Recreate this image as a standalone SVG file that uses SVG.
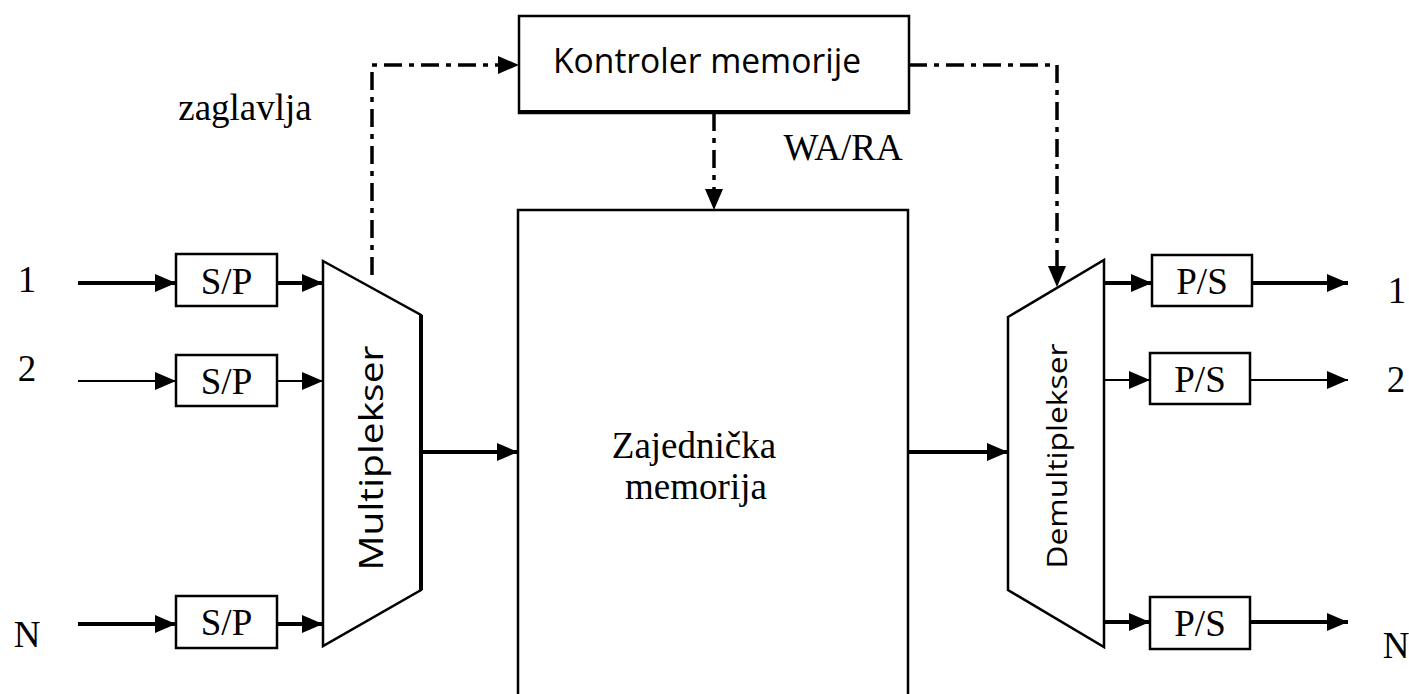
<svg xmlns="http://www.w3.org/2000/svg" width="1409" height="694" viewBox="0 0 1409 694">
<style>
.box{fill:#fff;stroke:#000;stroke-width:2.5}
.t{font-family:"Liberation Serif","Times New Roman",serif;font-size:37px;fill:#000}
.c{font-family:"Open Sans","DejaVu Sans",sans-serif;fill:#000}
.thick{stroke:#000;stroke-width:4;fill:none}
.thin{stroke:#000;stroke-width:2;fill:none}
.dd{stroke:#000;stroke-width:3.5;fill:none;stroke-dasharray:18 7 5 7}
</style>
<defs>
<marker id="ah" markerUnits="userSpaceOnUse" markerWidth="22" markerHeight="20" refX="21" refY="10" orient="auto">
<path d="M0,1 L21,10 L0,19 z" fill="#000"/>
</marker>
</defs>
<rect width="1409" height="694" fill="#fff"/>

<g id="connectors">
<line class="thick" x1="78" y1="283" x2="176" y2="283" marker-end="url(#ah)"/>
<line class="thin" x1="78" y1="381" x2="176" y2="381" marker-end="url(#ah)"/>
<line class="thick" x1="78" y1="624" x2="176" y2="624" marker-end="url(#ah)"/>
<line class="thick" x1="277" y1="283" x2="323" y2="283" marker-end="url(#ah)"/>
<line class="thin" x1="277" y1="381" x2="323" y2="381" marker-end="url(#ah)"/>
<line class="thick" x1="277" y1="624" x2="323" y2="624" marker-end="url(#ah)"/>
<line class="thick" x1="421" y1="452" x2="518" y2="452" marker-end="url(#ah)"/>
<line class="thick" x1="908" y1="452" x2="1008" y2="452" marker-end="url(#ah)"/>
<line class="thick" x1="1104" y1="283" x2="1152" y2="283" marker-end="url(#ah)"/>
<line class="thin" x1="1104" y1="380" x2="1150" y2="380" marker-end="url(#ah)"/>
<line class="thick" x1="1104" y1="622" x2="1150" y2="622" marker-end="url(#ah)"/>
<line class="thick" x1="1252" y1="283" x2="1348" y2="283" marker-end="url(#ah)"/>
<line class="thin" x1="1250" y1="380" x2="1348" y2="380" marker-end="url(#ah)"/>
<line class="thick" x1="1250" y1="622" x2="1348" y2="622" marker-end="url(#ah)"/>
<polyline class="dd" points="372,275 372,65 519,65" marker-end="url(#ah)"/>
<polyline class="dd" points="909,65 1057,65 1057,287" marker-end="url(#ah)"/>
<line class="dd" x1="714" y1="113" x2="714" y2="210" marker-end="url(#ah)"/>
</g>

<g id="controller">
<rect class="box" x="519" y="16" width="390" height="97"/>
<line x1="519" y1="112" x2="909" y2="112" stroke="#000" stroke-width="4"/>
<text class="c" x="707" y="73" font-size="35" text-anchor="middle" textLength="308" lengthAdjust="spacingAndGlyphs">Kontroler memorije</text>
</g>

<g id="memory">
<rect class="box" x="518" y="210" width="390" height="500"/>
<text class="t" x="694" y="458" text-anchor="middle">Zajednička</text>
<text class="t" x="696" y="499" text-anchor="middle">memorija</text>
</g>

<g id="mux">
<polygon class="box" points="323,261 421,315 421,590 323,646"/>
<line x1="421" y1="315" x2="421" y2="590" stroke="#000" stroke-width="4"/>
<text class="c" transform="translate(383,458) rotate(-90)" font-size="32" text-anchor="middle" textLength="225" lengthAdjust="spacingAndGlyphs">Multiplekser</text>
</g>

<g id="demux">
<polygon class="box" points="1008,317 1104,260 1104,647 1008,590"/>
<text class="c" transform="translate(1067,456) rotate(-90)" font-size="28" text-anchor="middle" textLength="225" lengthAdjust="spacingAndGlyphs">Demultiplekser</text>
</g>

<g id="sp1"><rect class="box" x="176" y="254" width="101" height="52"/><text class="t" x="226.5" y="294" text-anchor="middle">S/P</text></g>
<g id="sp2"><rect class="box" x="176" y="355" width="101" height="51"/><text class="t" x="226.5" y="394" text-anchor="middle">S/P</text></g>
<g id="spN"><rect class="box" x="176" y="596" width="101" height="52"/><text class="t" x="226.5" y="635" text-anchor="middle">S/P</text></g>
<g id="ps1"><rect class="box" x="1152" y="255" width="100" height="51"/><text class="t" x="1202" y="294" text-anchor="middle">P/S</text></g>
<g id="ps2"><rect class="box" x="1150" y="353" width="100" height="51"/><text class="t" x="1200" y="392" text-anchor="middle">P/S</text></g>
<g id="psN"><rect class="box" x="1150" y="597" width="100" height="52"/><text class="t" x="1200" y="636" text-anchor="middle">P/S</text></g>

<g id="labels">
<text class="t" x="27" y="292" text-anchor="middle">1</text>
<text class="t" x="27" y="381" text-anchor="middle">2</text>
<text class="t" x="27" y="647" text-anchor="middle">N</text>
<text class="t" x="1397" y="303" text-anchor="middle">1</text>
<text class="t" x="1396" y="392" text-anchor="middle">2</text>
<text class="t" x="1396" y="658" text-anchor="middle">N</text>
<text class="t" x="245" y="120" text-anchor="middle">zaglavlja</text>
<text class="t" x="843" y="160" text-anchor="middle">WA/RA</text>
</g>
</svg>
